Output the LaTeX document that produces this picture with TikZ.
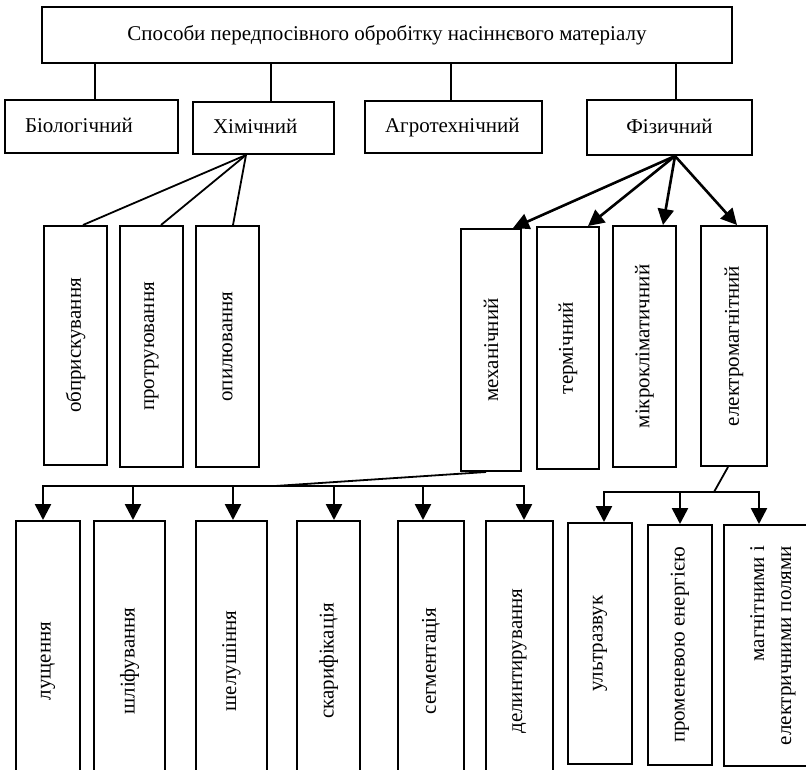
\documentclass[tikz,border=0pt]{standalone}
\usepackage{fontspec}
\setmainfont{Liberation Serif}
\usetikzlibrary{arrows.meta}

\begin{document}
\begin{tikzpicture}[
        x=1pt, y=-1pt,
        font=\fontsize{21}{27}\selectfont,
        box/.style={
            draw=black,
            line width=2pt,
            fill=white,
            align=center,
            inner sep=0pt
        },
        lvl/.style={
            box,
            minimum height=#1,
            inner xsep=20pt,
            text height=15pt,
            text depth=4pt,
            align=left
        },
        vbox/.style={
            box,
            rotate=90,
            minimum width=240pt
        },
        link/.style={
            draw=black,
            line width=1.8pt
        },
        bus/.style={
            link,
            line width=2pt,
            line cap=rect
        },
        arrow/.style={
            -{Triangle[length=16pt,width=16pt]},
            draw=black,
            line width=2.6pt
        }
    ]

    \useasboundingbox (0,0) rectangle (806,769);

    % Top box
    \node[box, minimum width=690pt, minimum height=56pt] (top) at (387,35)
        {Способи передпосівного обробітку насіннєвого матеріалу};

    % Groups of methods
    \node[lvl=53pt, text width=133pt] (bio) at (91.5,126.5) {Біологічний};
    \node[lvl=52pt, text width=101pt] (chem) at (263.5,128) {Хімічний};
    \node[lvl=52pt, text width=137pt] (agro) at (453.5,127) {Агротехнічний};
    \node[lvl=55pt, text width=125pt, align=center] (fiz) at (669.5,127.5) {Фізичний};

    \draw[link] ([xshift=3.5pt]bio.north |- top.south) -- ([xshift=3.5pt]bio.north);
    \draw[link] ([xshift=7.5pt]chem.north |- top.south) -- ([xshift=7.5pt]chem.north);
    \draw[link] ([xshift=-2.5pt]agro.north |- top.south) -- ([xshift=-2.5pt]agro.north);
    \draw[link] ([xshift=6.5pt]fiz.north |- top.south) -- ([xshift=6.5pt]fiz.north);

    % Chemical
    \node[vbox, minimum width=239pt, minimum height=63pt] (op1) at (75.5,345.5) {обприскування};
    \node[vbox, minimum width=241pt, minimum height=63pt] (op2) at (151.5,346.5) {протруювання};
    \node[vbox, minimum width=241pt, minimum height=63pt] (op3) at (227.5,346.5) {опилювання};

    \coordinate (chemhub) at ([xshift=-17.5pt]chem.south);
    \draw[link] (chemhub) -- ([xshift=7.5pt]op1.east);
    \draw[link] (chemhub) -- ([xshift=9.5pt]op2.east);
    \draw[link] (chemhub) -- ([xshift=5.5pt]op3.east);

    % Physical
    \node[vbox, minimum width=242pt, minimum height=60pt] (mech) at (491,350) {механічний};
    \node[vbox, minimum width=242pt, minimum height=62pt] (term) at (568,348) {термічний};
    \node[vbox, minimum width=241pt, minimum height=63pt] (micro) at (644.5,346.5) {мікрокліматичний};
    \node[vbox, minimum width=240pt, minimum height=66pt] (elmag) at (734,346) {електромагнітний};

    \coordinate (fizhub) at ([xshift=5.5pt]fiz.south);
    \draw[arrow] (fizhub) -- ([xshift=22pt]mech.east);
    \draw[arrow] (fizhub) -- ([xshift=20pt]term.east);
    \draw[arrow] (fizhub) -- ([xshift=18.5pt]micro.east);
    \draw[arrow] (fizhub) -- ([xshift=3pt]elmag.east);

    % Mechanical
    \node[vbox, minimum width=280pt, minimum height=64pt] (l1) at (48,661) {лущення};
    \node[vbox, minimum width=280pt, minimum height=71pt] (l2) at (129.5,661) {шліфування};
    \node[vbox, minimum width=280pt, minimum height=71pt] (l3) at (231.5,661) {шелушіння};
    \node[vbox, minimum width=280pt, minimum height=63pt] (l4) at (328.5,661) {скарифікація};
    \node[vbox, minimum width=280pt, minimum height=66pt] (l5) at (431,661) {сегментація};
    \node[vbox, minimum width=280pt, minimum height=67pt] (l6) at (519.5,661) {делинтирування};

    \coordinate (mbus) at (275,486);
    \draw[link] ([xshift=-5pt]mech.west) -- (mbus);
    \draw[bus] ([xshift=-5pt]l1.east |- mbus) -- ([xshift=4.5pt]l6.east |- mbus);

    \draw[arrow] ([xshift=-5pt]l1.east |- mbus) -- ([xshift=-5pt]l1.east);
    \draw[arrow] ([xshift=3.5pt]l2.east |- mbus) -- ([xshift=3.5pt]l2.east);
    \draw[arrow] ([xshift=1.5pt]l3.east |- mbus) -- ([xshift=1.5pt]l3.east);
    \draw[arrow] ([xshift=5.5pt]l4.east |- mbus) -- ([xshift=5.5pt]l4.east);
    \draw[arrow] ([xshift=-8pt]l5.east |- mbus) -- ([xshift=-8pt]l5.east);
    \draw[arrow] ([xshift=4.5pt]l6.east |- mbus) -- ([xshift=4.5pt]l6.east);

    % Electromagnetic
    \node[vbox, minimum width=241pt, minimum height=64pt] (u1) at (600,643.5) {ультразвук};
    \node[vbox, minimum width=240pt, minimum height=64pt] (u2) at (680,645) {променевою енергією};
    \node[vbox, minimum width=241pt, minimum height=98pt, align=right] (u3) at (773,645.5)
        {магнітними і\\електричними полями};

    \coordinate (ebus) at (714,492);
    \draw[link] ([xshift=-6pt]elmag.west) -- (ebus);
    \draw[bus] ([xshift=4pt]u1.east |- ebus) -- ([xshift=-14pt]u3.east |- ebus);

    \draw[arrow] ([xshift=4pt]u1.east |- ebus) -- ([xshift=4pt]u1.east);
    \draw[arrow] (u2.east |- ebus) -- (u2.east);
    \draw[arrow] ([xshift=-14pt]u3.east |- ebus) -- ([xshift=-14pt]u3.east);

\end{tikzpicture}
\end{document}
